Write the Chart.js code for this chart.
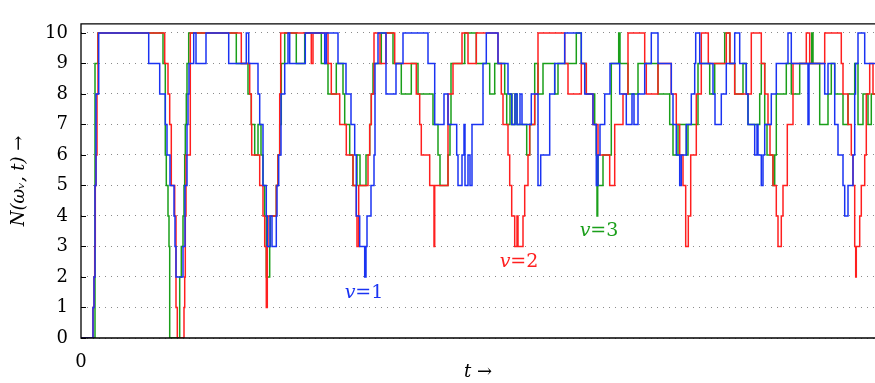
<!DOCTYPE html>
<html>
<head>
<meta charset="utf-8">
<script src="https://cdn.jsdelivr.net/npm/chart.js@4/dist/chart.umd.min.js"></script>
<style>
  html, body { margin: 0; padding: 0; background: #fff; }
  canvas { display: block; }
</style>
</head>
<body>
<canvas id="chart" width="875" height="383"></canvas>
<script>
// step data: [t, N] = value N starts at time t
const blueSteps = [[0,0],[12,1],[13,2],[14,5],[15,8],[17.7,10],[67.7,9],[78.7,8],[84.3,7],[86,6],[89,5],[93,4],[94,3],[95,2],[102,3],[104,5],[106,7],[107,8],[108,9],[112.7,10],[115,9],[125,10],[147.7,9],[165.3,10],[167.7,9],[177,8],[178.7,7],[182,5],[185.3,4],[186.3,3],[189,4],[191,3],[195.3,4],[196,5],[197.7,6],[200,8],[203.7,9],[207,10],[208.7,9],[224.3,10],[243.7,9],[245.3,10],[257,9],[265,8],[270,7],[273.7,6],[275.3,4],[278.7,3],[283.7,2],[285,3],[286,4],[290,5],[293,6],[294,9],[297,10],[305,8],[315,9],[322,10],[347,9],[353.7,7],[363,8],[367,7],[375.7,6],[377,5],[381,6],[383,7],[384,5],[387,6],[389,5],[391,7],[402,9],[405.3,10],[417,9],[427,8],[430.7,7],[434,8],[436,7],[439,8],[441,7],[450.3,8],[457,5],[459.7,6],[468.7,8],[473.7,9],[483.7,10],[500.3,9],[503.7,8],[512,7],[515.3,5],[517,6],[519,7],[523.7,8],[529,9],[538.7,8],[545.3,7],[551,8],[553,7],[557,8],[563.7,9],[570.3,10],[577,9],[590.3,8],[592,7],[595.3,6],[598.7,5],[600.3,6],[605.3,7],[610.3,8],[613.7,9],[614.7,10],[618.7,9],[632,8],[634,7],[640.3,8],[645.3,9],[653.7,10],[658.7,9],[665.3,8],[667,7],[673.7,6],[676,7],[677,6],[680.3,5],[682,6],[683.7,7],[690.3,8],[695.3,9],[707,10],[710.3,9],[727,7],[728,9],[743.7,8],[747,9],[753.7,7],[757,6],[762,5],[763.7,4],[767,5],[772,6],[773.7,8],[774.5,9],[777,10],[783.7,9],[794,9]];

const redSteps = [[0,0],[12,1],[13,2],[13.7,3],[14.3,5],[15,6],[16,8],[17,10],[83.7,9],[87,8],[88.7,7],[90.3,5],[93.7,4],[95,1],[96.3,0],[103,1],[103.7,2],[104.3,4],[105,6],[109.3,10],[160.3,9],[168.7,8],[170.3,7],[170.7,6],[178.7,5],[182,4],[183.7,3],[185.3,1],[186.3,3],[187,4],[195.3,5],[197,6],[198.7,8],[199.7,10],[230.3,9],[232,10],[247,9],[250.3,8],[258.7,7],[265.3,6],[272,5],[275.3,4],[276,3],[277.7,5],[287,6],[288.7,7],[290.3,8],[293,10],[299,9],[305,10],[313.7,9],[335.3,8],[338.7,7],[340.3,6],[348.7,5],[353,3],[353.7,5],[367,8],[372,9],[381,10],[387,9],[395.3,10],[417,9],[420.3,8],[422,7],[427,6],[428.7,5],[430.7,4],[433.7,3],[436,4],[437,3],[442,4],[443.7,5],[447,6],[448.7,7],[453.7,8],[457,10],[483.7,9],[487,8],[500.3,9],[505.3,8],[512,7],[517,6],[528.7,5],[533.7,7],[542,8],[547,10],[563.7,9],[565.3,8],[577,9],[590.3,8],[595.3,7],[598.7,6],[602,5],[604.7,3],[607.3,4],[609.7,6],[615.3,8],[620.3,10],[627.3,9],[645.3,10],[649,9],[653.7,8],[670.3,10],[680.3,9],[683.7,8],[687,7],[689,6],[692,5],[695.3,4],[697,3],[700.3,4],[702,5],[706.3,7],[712,9],[725.3,10],[728.7,9],[743.7,10],[760.3,9],[762,8],[767,7],[770.3,6],[772,5],[773.7,3],[774.7,2],[775.3,3],[778.7,4],[780.3,5],[783.7,6],[785.3,8],[788.7,9],[792,8],[794,8]];

const greenSteps = [[0,0],[14,9],[17,10],[82,9],[84.3,6],[85.3,5],[87,4],[88,3],[88.7,0],[98.7,2],[100.3,3],[102,4],[103,5],[103.7,6],[104.3,7],[105.3,8],[106,9],[107.7,10],[155.3,9],[167,8],[170.3,7],[173.7,6],[177,7],[180,6],[182,5],[183.7,4],[185.3,2],[188.7,3],[189.3,4],[195.3,5],[197,6],[198.7,7],[200.3,9],[203.7,10],[215.3,9],[223.7,10],[240.3,9],[247,8],[255.3,9],[262,8],[263.7,7],[268.7,6],[272,5],[276,6],[279,5],[285,6],[288.7,7],[290.3,8],[292,9],[300.3,10],[312,9],[320.3,8],[330.3,9],[337,8],[352,7],[357,6],[359,5],[367,6],[369,7],[370,9],[383.7,10],[395.3,9],[408.7,8],[413.7,9],[423.7,8],[425.7,7],[429,8],[431,7],[434,8],[436,7],[445.7,6],[448.7,7],[453.7,9],[457,8],[462,9],[473.7,8],[477,9],[495.3,10],[500.3,9],[505.3,8],[513.7,7],[515.3,6],[516,4],[516.7,6],[517,5],[522,6],[530.3,9],[537.7,10],[539,9],[547,8],[557,9],[577,8],[588.7,7],[592,6],[597,7],[605.3,6],[607,7],[617,9],[628.7,8],[633.7,9],[643.7,10],[648.7,9],[653.7,8],[662,9],[665.3,8],[667,7],[678.7,8],[680.3,9],[683.7,7],[686,6],[692,5],[693.7,6],[695.3,8],[705.3,9],[710.3,8],[718.7,9],[730.7,10],[732,9],[738.7,7],[747,8],[750.3,9],[753.7,8],[762,7],[767,8],[773.7,9],[777,7],[782,8],[787,7],[790.3,8],[794,8]];

const seriesNames = ['1', '2', '3'];
const yTicks = [0,1,2,3,4,5,6,7,8,9,10];
const tMax = 794;

const BLUE = '#1a33f2', RED = '#ff1f1f', GREEN = '#1a9f1a';
const serif = '"DejaVu Serif", serif';

// where the v=... labels sit, in data units
const curveLabels = [
  {name: seriesNames[0], color: BLUE, t: 283, n: 1.48},
  {name: seriesNames[1], color: RED, t: 438, n: 2.5},
  {name: seriesNames[2], color: GREEN, t: 518, n: 3.5}
];

const toPts = steps => steps.map(s => ({x: s[0], y: s[1]}));

// frame, inner tick marks and curve labels
const extras = {
  id: 'extras',
  afterDraw(chart) {
    const ctx = chart.ctx, a = chart.chartArea, ys = chart.scales.y, xs = chart.scales.x;
    ctx.save();
    ctx.strokeStyle = '#000';
    ctx.lineWidth = 1.3;
    ctx.beginPath();
    ctx.moveTo(a.right, a.top); ctx.lineTo(a.left, a.top);
    ctx.lineTo(a.left, a.bottom); ctx.lineTo(a.right, a.bottom);
    ctx.stroke();
    ctx.lineWidth = 1;
    yTicks.forEach(v => {
      const py = Math.round(ys.getPixelForValue(v)) + 0.5;
      ctx.beginPath(); ctx.moveTo(a.left, py); ctx.lineTo(a.left + 5, py); ctx.stroke();
    });
    ctx.textBaseline = 'middle';
    curveLabels.forEach(l => {
      const cx = xs.getPixelForValue(l.t), cy = ys.getPixelForValue(l.n);
      ctx.fillStyle = l.color;
      ctx.font = 'italic 19px ' + serif;
      const vw = ctx.measureText('v').width;
      ctx.font = '19px ' + serif;
      const rest = '=' + l.name;
      const rw = ctx.measureText(rest).width;
      const x0 = cx - (vw + rw) / 2;
      ctx.textAlign = 'left';
      ctx.font = 'italic 19px ' + serif;
      ctx.fillText('v', x0, cy);
      ctx.font = '19px ' + serif;
      ctx.fillText(rest, x0 + vw, cy);
    });
    ctx.restore();
  }
};

const lineStyle = {stepped: 'before', pointRadius: 0, borderWidth: 1.5, fill: false, tension: 0};

new Chart(document.getElementById('chart'), {
  type: 'line',
  data: {
    datasets: [
      Object.assign({label: 'v=1', data: toPts(blueSteps), borderColor: BLUE}, lineStyle),
      Object.assign({label: 'v=2', data: toPts(redSteps), borderColor: RED}, lineStyle),
      Object.assign({label: 'v=3', data: toPts(greenSteps), borderColor: GREEN}, lineStyle)
    ]
  },
  options: {
    responsive: false,
    animation: false,
    layout: {padding: {top: 5, right: 0, left: 0, bottom: 0}},
    plugins: {legend: {display: false}, tooltip: {enabled: false}},
    scales: {
      x: {
        type: 'linear', min: 0, max: tMax,
        grid: {display: false, drawTicks: false},
        border: {display: false},
        afterBuildTicks: s => { s.ticks = [{value: 0}]; },
        afterFit: s => { s.height = 45; },
        ticks: {color: '#000', font: {family: serif, size: 18}, padding: 14, maxRotation: 0},
        title: {display: true, text: 't →', color: '#000', font: {family: serif, size: 18, style: 'italic'}, padding: {top: 0, bottom: 0}}
      },
      y: {
        min: 0, max: 10.3,
        afterBuildTicks: s => { s.ticks = yTicks.map(v => ({value: v})); },
        afterFit: s => { s.width = 81; },
        grid: {color: '#8a8a8a', lineWidth: 1, drawTicks: false, borderDash: [1, 5]},
        border: {display: false, dash: [1, 5]},
        ticks: {color: '#000', font: {family: serif, size: 18}, padding: 13},
        title: {display: true, text: 'N(ωᵥ, t) →', color: '#000', font: {family: serif, size: 18, style: 'italic'}, padding: {top: 9, bottom: 0}}
      }
    }
  },
  plugins: [extras]
});
</script>
</body>
</html>
